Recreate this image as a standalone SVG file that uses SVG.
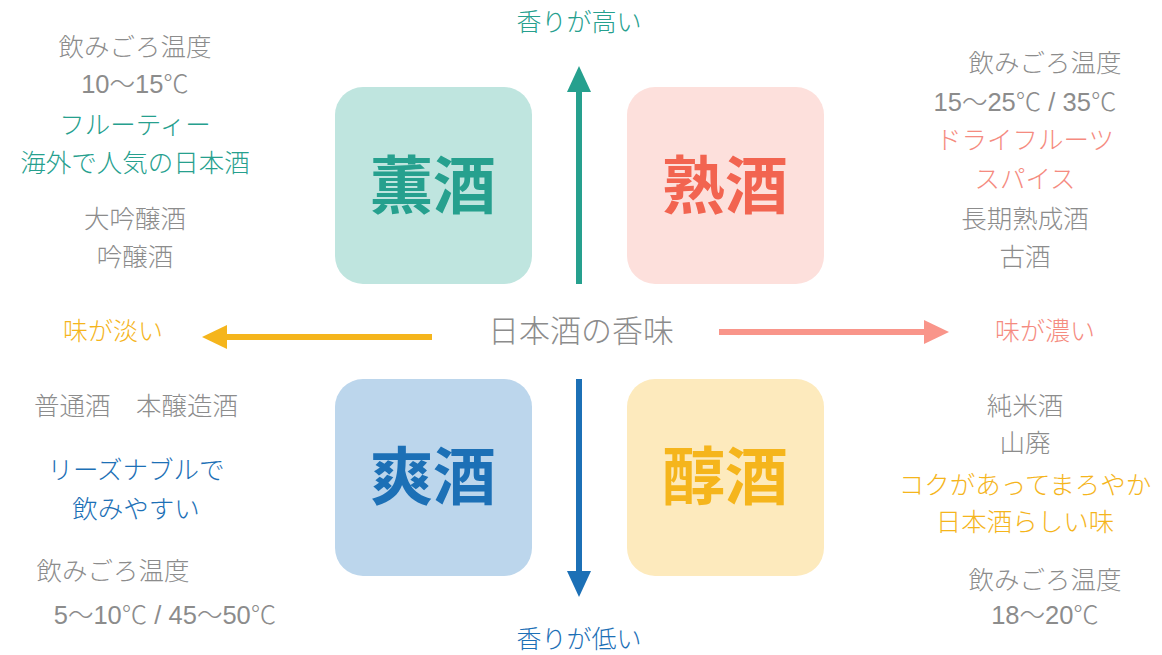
<svg xmlns="http://www.w3.org/2000/svg" width="1162" height="655" viewBox="0 0 1162 655">
<style>
text{font-family:"Liberation Sans","Noto Sans CJK JP",sans-serif;text-anchor:middle;dominant-baseline:central;font-weight:300}
.g{fill:#8c8c8c;font-size:25.5px}
.t{fill:#26a08e}
.s{fill:#f58b80}
.b{fill:#1c70b6}
.y{fill:#f5b51c}
.big{font-family:"Noto Sans CJK JP",sans-serif;font-size:63px;font-weight:bold}
.lab{font-size:25px}
</style>
<rect width="1162" height="655" fill="#ffffff"/>
<g id="connectors">
<line x1="579" y1="284" x2="579" y2="89" stroke="#26a08e" stroke-width="6"/>
<polygon points="579,66 567,92 591,92" fill="#26a08e"/>
<line x1="579" y1="379" x2="579" y2="574" stroke="#1c70b6" stroke-width="6"/>
<polygon points="579,597 567,571 591,571" fill="#1c70b6"/>
<line x1="432" y1="337" x2="224" y2="337" stroke="#f5b51c" stroke-width="6"/>
<polygon points="202,337 227,325 227,349" fill="#f5b51c"/>
<line x1="719" y1="332" x2="927" y2="332" stroke="#f9958a" stroke-width="6"/>
<polygon points="949,332 924,320 924,344" fill="#f9958a"/>
</g>
<g id="node-kunshu">
<rect x="335" y="87" width="197" height="197" rx="28" fill="#bfe5df"/>
<text x="433" y="180" class="big t">薫酒</text>
</g>
<g id="node-jukushu">
<rect x="627" y="87" width="197" height="197" rx="28" fill="#fde0dc"/>
<text x="725" y="180" class="big" fill="#f26450">熟酒</text>
</g>
<g id="node-soushu">
<rect x="335" y="379" width="197" height="197" rx="28" fill="#bcd6ec"/>
<text x="433" y="471" class="big b">爽酒</text>
</g>
<g id="node-junshu">
<rect x="627" y="379" width="197" height="197" rx="28" fill="#fdeabd"/>
<text x="725" y="471" class="big y">醇酒</text>
</g>
<g id="axis-labels">
<text x="579" y="22" class="lab t">香りが高い</text>
<text x="579" y="639" class="lab b">香りが低い</text>
<text x="113" y="331" class="lab y">味が淡い</text>
<text x="1045" y="331" class="lab s">味が濃い</text>
<text x="581" y="331" style="font-size:31px" fill="#8c8c8c">日本酒の香味</text>
</g>
<g id="info-topleft">
<text x="135" y="47" class="g">飲みごろ温度</text>
<text x="135" y="84" class="g">10〜15℃</text>
<text x="135" y="125" class="g t">フルーティー</text>
<text x="135" y="163" class="g t">海外で人気の日本酒</text>
<text x="135" y="219" class="g">大吟醸酒</text>
<text x="135" y="257" class="g">吟醸酒</text>
</g>
<g id="info-topright">
<text x="1045" y="63" class="g">飲みごろ温度</text>
<text x="1025" y="102" class="g">15〜25℃ / 35℃</text>
<text x="1025" y="140" class="g s">ドライフルーツ</text>
<text x="1025" y="179" class="g s">スパイス</text>
<text x="1025" y="219" class="g">長期熟成酒</text>
<text x="1025" y="257" class="g">古酒</text>
</g>
<g id="info-bottomleft">
<text x="136" y="406" class="g">普通酒　本醸造酒</text>
<text x="136" y="470" class="g b">リーズナブルで</text>
<text x="136" y="509" class="g b">飲みやすい</text>
<text x="113" y="571" class="g">飲みごろ温度</text>
<text x="165" y="615" class="g">5〜10℃ / 45〜50℃</text>
</g>
<g id="info-bottomright">
<text x="1025" y="406" class="g">純米酒</text>
<text x="1025" y="443" class="g">山廃</text>
<text x="1025" y="485" class="g y">コクがあってまろやか</text>
<text x="1025" y="522" class="g y">日本酒らしい味</text>
<text x="1045" y="580" class="g">飲みごろ温度</text>
<text x="1045" y="615" class="g">18〜20℃</text>
</g>
</svg>
